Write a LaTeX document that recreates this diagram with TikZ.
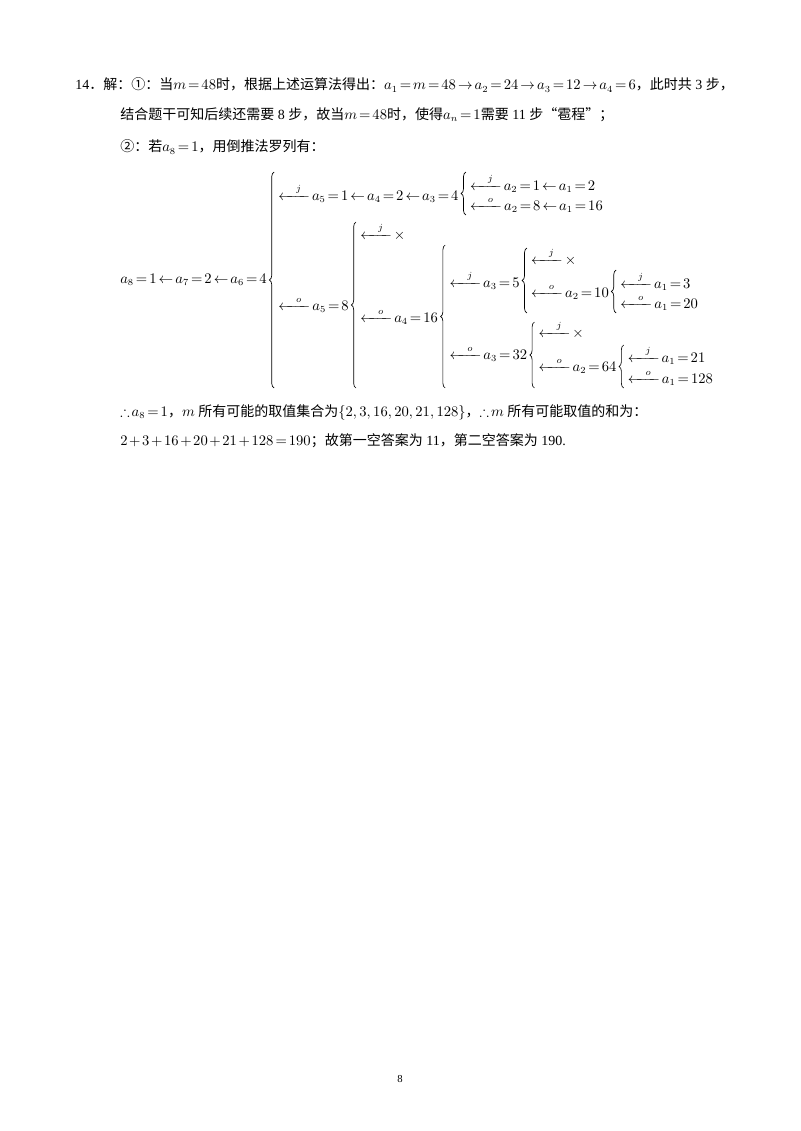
\documentclass[tikz,border=0pt]{standalone}
\usepackage{amsmath,amssymb}
\usepackage{fontspec}
\setmainfont{Liberation Serif}
\newfontfamily\cjk{Noto Sans CJK SC}
\newcommand{\zh}[1]{{\cjk #1}}
\usetikzlibrary{decorations.pathreplacing}
\thickmuskip=2.5mu plus 1mu
\medmuskip=2mu
\tikzset{
 txt/.style={anchor=west,inner sep=0pt,font=\fontsize{10.5}{12}\selectfont},
 br/.style={decorate,decoration={brace,amplitude=3.5pt},line width=0.5pt},
}
\newcommand{\la}[1]{\mathrel{\xleftarrow{\hspace{0.9em}#1\hspace{0.4em}}}}
% brace after node #1 from y #2 (top) to #3 (bottom), named coordinate #4
\newcommand{\brc}[4]{\path (#1.east) ++(7,0) coordinate (#4);
 \draw[br] (#4 |- 0,#3) -- (#4 |- 0,#2);}
\begin{document}
\begin{tikzpicture}[x=0.75pt,y=-0.75pt]
\useasboundingbox (0,0) rectangle (800,1131);
\node[txt] (l1) at (75,85) {14\zh{．解：①：当}$m=48$\zh{时，根据上述运算法得出：}$a_1=m=48\to a_2=24\to a_3=12\to a_4=6$\zh{，此时共} 3 \zh{步，}};
\node[txt] (l2) at (120,115) {\zh{结合题干可知后续还需要} 8 \zh{步，故当}$m=48$\zh{时，使得}$a_n=1$\zh{需要} 11 \zh{步“雹程”；}};
\node[txt] (l3) at (120,147) {\zh{②：若}$a_8=1$\zh{，用倒推法罗列有：}};
% diagram
\node[txt] (r0) at (120,280) {$a_8=1\leftarrow a_7=2\leftarrow a_6=4$};
\brc{r0}{172}{388}{b0}
\node[txt] (r1) at ([xshift=3]b0 |- 0,193) {$\la{j}a_5=1\leftarrow a_4=2\leftarrow a_3=4$};
\brc{r1}{172}{215}{b1}
\node[txt] (r11) at ([xshift=3]b1 |- 0,183) {$\la{j}a_2=1\leftarrow a_1=2$};
\node[txt] (r12) at ([xshift=3]b1 |- 0,205) {$\la{o}a_2=8\leftarrow a_1=16$};
\node[txt] (r2) at ([xshift=3]b0 |- 0,305) {$\la{o}a_5=8$};
\brc{r2}{222}{388}{b2}
\node[txt] (r21) at ([xshift=3]b2 |- 0,232) {$\la{j}\times$};
\node[txt] (r22) at ([xshift=3]b2 |- 0,317) {$\la{o}a_4=16$};
\brc{r22}{245}{388}{b3}
\node[txt] (r3) at ([xshift=3]b3 |- 0,280) {$\la{j}a_3=5$};
\brc{r3}{248}{313}{b4}
\node[txt] (r31) at ([xshift=3]b4 |- 0,257) {$\la{j}\times$};
\node[txt] (r32) at ([xshift=3]b4 |- 0,292) {$\la{o}a_2=10$};
\brc{r32}{270}{313}{b5}
\node[txt] (r321) at ([xshift=3]b5 |- 0,281) {$\la{j}a_1=3$};
\node[txt] (r322) at ([xshift=3]b5 |- 0,303) {$\la{o}a_1=20$};
\node[txt] (r4) at ([xshift=3]b3 |- 0,354) {$\la{o}a_3=32$};
\brc{r4}{322}{388}{b6}
\node[txt] (r41) at ([xshift=3]b6 |- 0,330) {$\la{j}\times$};
\node[txt] (r42) at ([xshift=3]b6 |- 0,366) {$\la{o}a_2=64$};
\brc{r42}{345}{388}{b7}
\node[txt] (r421) at ([xshift=3]b7 |- 0,355) {$\la{j}a_1=21$};
\node[txt] (r422) at ([xshift=3]b7 |- 0,378) {$\la{o}a_1=128$};
\node[txt] (l4) at (120,412) {$\therefore a_8=1$\zh{，}$m$ \zh{所有可能的取值集合为}$\{2,3,16,20,21,128\}$\zh{，}$\therefore m$ \zh{所有可能取值的和为：}};
\node[txt] (l5) at (120,441) {$2+3+16+20+21+128=190$\zh{；故第一空答案为} 11\zh{，第二空答案为} 190.};
\node[txt,font=\fontsize{8}{9}\selectfont] (pg) at (397,1079) {8};
\end{tikzpicture}
\end{document}
